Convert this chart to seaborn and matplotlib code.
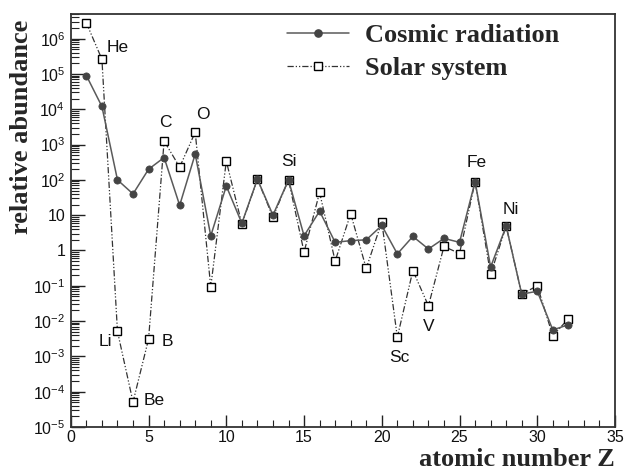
import matplotlib
matplotlib.use("Agg")
import matplotlib.pyplot as plt
import matplotlib.ticker as mticker
from matplotlib.lines import Line2D
import numpy as np
import pandas as pd
import seaborn as sns

# Element abundances, normalised to Si = 100
atomic_number = list(range(1, 33))
cosmic_radiation = [9e4, 1.2e4, 100, 40, 200, 430, 19, 540, 2.6, 67, 5.9, 105,
                    10, 100, 2.6, 13, 1.7, 1.9, 2.0, 5.1, 0.8, 2.5, 1.1, 2.2,
                    1.7, 89, 0.34, 4.9, 0.058, 0.07, 0.0056, 0.0079]
solar_system = [2.8e6, 2.6e5, 0.0051, 5.1e-5, 0.0031, 1260, 230, 2240, 0.093,
                340, 5.6, 105, 8.8, 100, 0.9, 44, 0.5, 11, 0.31, 6.5, 0.0035,
                0.27, 0.027, 1.3, 0.82, 89, 0.21, 4.9, 0.058, 0.1, 0.0038, 0.0117]

element_names = ["He", "C", "O", "Si", "Fe", "Ni", "Sc", "V", "Li", "B", "Be"]
element_x = [3.04, 6.06, 8.5, 14.06, 26.08, 28.31, 21.15, 23.05, 2.2, 6.22, 5.35]
element_y = [5.6e5, 4.2e3, 6.9e3, 330, 310, 14.8, 9.3e-4, 6.9e-3, 2.6e-3, 2.6e-3, 5.5e-5]

y_tick_values = [1e-5, 1e-4, 1e-3, 1e-2, 1e-1, 1, 10, 1e2, 1e3, 1e4, 1e5, 1e6]
y_tick_labels = [r"$10^{-5}$", r"$10^{-4}$", r"$10^{-3}$", r"$10^{-2}$", r"$10^{-1}$",
                 "1", "10", r"$10^{2}$", r"$10^{3}$", r"$10^{4}$", r"$10^{5}$", r"$10^{6}$"]

df_cosmic = pd.DataFrame({"Z": atomic_number, "abundance": cosmic_radiation})
df_solar = pd.DataFrame({"Z": atomic_number, "abundance": solar_system})

sns.set_theme(style="ticks")
plt.rcParams["font.family"] = ["Liberation Sans", "DejaVu Sans"]
plt.rcParams["mathtext.fontset"] = "custom"
plt.rcParams["mathtext.rm"] = "Liberation Sans"
plt.rcParams["mathtext.it"] = "Liberation Sans:italic"
plt.rcParams["mathtext.bf"] = "Liberation Sans:bold"

fig = plt.figure(figsize=(6.24, 4.73), dpi=100)
ax = fig.add_axes([0.1135, 0.0973, 0.8721, 0.8731])

solar_ls = (0, (5, 1.6, 1, 1.6, 1, 1.6))
sns.lineplot(data=df_solar, x="Z", y="abundance", ax=ax, color="#333333",
             linewidth=0.9, linestyle=solar_ls, marker="s", markersize=5.2,
             markerfacecolor="white", markeredgecolor="black",
             markeredgewidth=1.0, zorder=3)
sns.lineplot(data=df_cosmic, x="Z", y="abundance", ax=ax, color="#5a5a5a",
             linewidth=1.1, marker="o", markersize=5.2, markerfacecolor="#444444",
             markeredgecolor="#444444", markeredgewidth=0.5, zorder=4)

ax.set_yscale("log")
ax.set_xlim(0, 35)
ax.set_ylim(1e-5, 5e6)

ax.set_yticks(y_tick_values)
ax.set_yticklabels(y_tick_labels)
ax.yaxis.set_minor_locator(mticker.LogLocator(base=10, subs=np.arange(2, 10), numticks=50))
ax.yaxis.set_minor_formatter(mticker.NullFormatter())
ax.xaxis.set_major_locator(mticker.MultipleLocator(5))
ax.xaxis.set_minor_locator(mticker.MultipleLocator(1))

ax.tick_params(axis="both", which="both", direction="in", color="#222222",
               labelsize=11.5, labelcolor="#111111")
ax.tick_params(axis="y", which="major", length=10, width=1.0, pad=4)
ax.tick_params(axis="y", which="minor", length=6, width=0.8)
ax.tick_params(axis="x", which="major", length=9, width=1.0, pad=2)
ax.tick_params(axis="x", which="minor", length=5, width=0.8)

for side in ["left", "bottom", "top", "right"]:
    ax.spines[side].set_visible(True)
    ax.spines[side].set_linewidth(1.3)
    ax.spines[side].set_color("#333333")

serif_bold = dict(family=["Liberation Serif", "DejaVu Serif"], weight="bold", size=19)
ax.set_ylabel("relative abundance", loc="top", **serif_bold)
ax.yaxis.set_label_coords(-0.0695, 0.985)
ax.set_xlabel("atomic number Z", loc="right", **serif_bold)
ax.xaxis.label.set_verticalalignment("center")
ax.xaxis.set_label_coords(1.0, -0.079)

for name, xv, yv in zip(element_names, element_x, element_y):
    ax.text(xv, yv, name, ha="center", va="center", fontsize=12.5, color="#111111")

handles = [
    Line2D([], [], color="#5a5a5a", linewidth=1.1, marker="o", markersize=5.2,
           markerfacecolor="#444444", markeredgecolor="#444444"),
    Line2D([], [], color="#333333", linewidth=0.9, linestyle=solar_ls, marker="s",
           markersize=5.2, markerfacecolor="white", markeredgecolor="black"),
]
ax.legend(handles, ["Cosmic radiation", "Solar system"], loc="upper left",
          bbox_to_anchor=(0.354, 1.034), frameon=False, handlelength=2.35,
          handletextpad=0.6, labelspacing=0.35,
          prop=dict(family=["Liberation Serif", "DejaVu Serif"], weight="bold", size=19))

fig.savefig("out.png", dpi=100)
